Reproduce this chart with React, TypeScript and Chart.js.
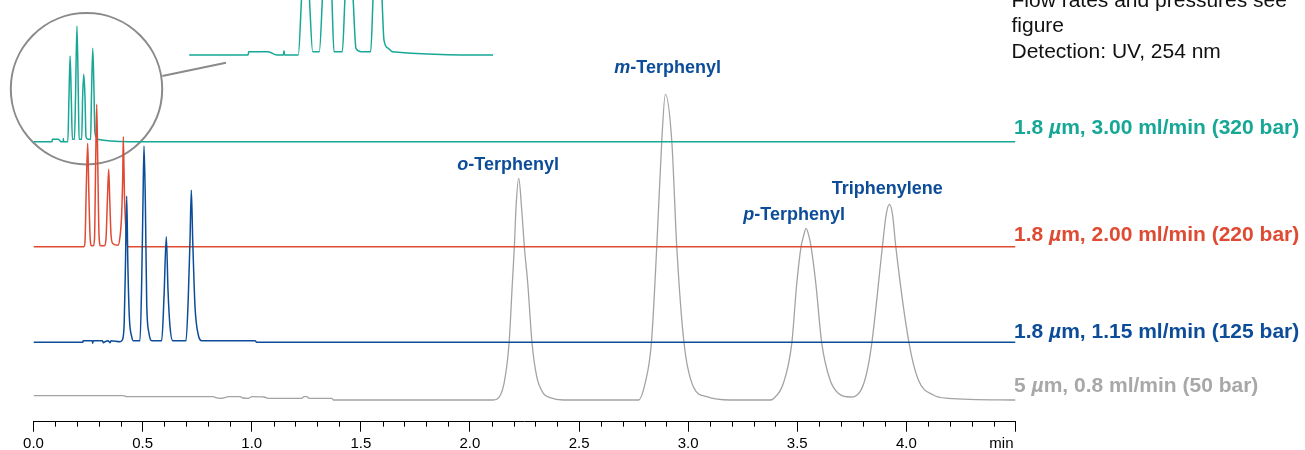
import React, { useEffect, useRef } from 'react';
import { Chart, registerables } from 'chart.js';

Chart.register(...registerables);

// ---------- data ----------
const X_MIN = 0;
const X_MAX = 4.5;
const TICK_VALUES = [0, 0.5, 1.0, 1.5, 2.0, 2.5, 3.0, 3.5, 4.0, 4.5];
const TICK_LABELS = ['0.0', '0.5', '1.0', '1.5', '2.0', '2.5', '3.0', '3.5', '4.0', ''];
const UNIT_LABEL = 'min';

// 5 µm, 0.8 ml/min (50 bar)
const grayTime = [
  0.0, 0.4115, 0.4271, 0.8226, 0.8396, 0.8547, 0.8731, 0.8914, 0.9464, 0.9601, 0.9831, 1.0014,
  1.0564, 1.0747, 1.2291, 1.2397, 1.2534, 1.2626, 1.3666, 1.374, 2.1059,
  2.1228, 2.1563, 2.1792, 2.1943, 2.2035, 2.2113, 2.2236, 2.2374, 2.2493, 2.2649, 2.2846, 2.3061, 2.3364, 2.3671, 2.428, 2.7644,
  2.7718, 2.8025, 2.8314, 2.8561, 2.879, 2.8955, 2.9249, 2.9477, 2.9812, 3.0238, 3.0852, 3.192, 3.3753,
  3.3891, 3.4363, 3.4748, 3.4977, 3.5174, 3.528, 3.5403, 3.5541, 3.5632, 3.5848, 3.6123, 3.6503, 3.6884, 3.742, 3.7878,
  3.8158, 3.8414, 3.89, 3.907, 3.9221, 3.9368, 3.9514, 4.0124, 4.055, 4.1237, 4.1903, 4.5,
];
const graySignal = [
  4.3, 4.3, 3.3, 3.3, 2.2, 1.7, 2.2, 3.3, 3.3, 2.0, 1.7, 3.3,
  3.0, 1.7, 1.7, 3.3, 3.3, 1.7, 1.7, 0, 0,
  0.7, 16.7, 56.7, 116.7, 153.3, 193.3, 221.7, 190, 153.3, 116.7, 56.7, 23.3, 6.7, 2.3, 0, 0,
  0, 16.7, 56.7, 153.3, 259, 305.7, 259, 153.3, 56.7, 13.3, 3.3, 0, 0,
  1.0, 16.7, 56.7, 116.7, 153.3, 163.3, 171.7, 163.3, 153.3, 116.7, 56.7, 20, 6.7, 3.0, 8.3,
  25, 56.7, 153.3, 185, 195.7, 185, 153.3, 56.7, 20, 5, 1.7, 0,
];

// 1.8 µm, 1.15 ml/min (125 bar)
const blueTime = [
  0.0, 0.2255, 0.2282, 0.269, 0.2713, 0.2736, 0.3162, 0.3199, 0.3277, 0.3414, 0.3506, 0.3552, 0.3964, 0.4079,
  0.4157, 0.4216, 0.4271, 0.4322, 0.439, 0.45, 0.4574, 0.488,
  0.4959, 0.5018, 0.5064, 0.5124, 0.5188, 0.5293, 0.5417, 0.5875,
  0.5981, 0.6086, 0.6164, 0.6256, 0.638, 0.6989,
  0.7094, 0.7172, 0.7232, 0.7296, 0.7402, 0.7553, 0.7709, 1.0151, 1.0229, 4.5,
];
const blueSignal = [
  0, 0, 1.6, 1.6, -1.0, 1.6, 1.6, -0.4, 0.6, 1.6, -0.4, 1.6, 0.6, 2.5,
  20, 80, 146.3, 80, 26, 5.6, 1.6, 1.6,
  62, 142, 196.3, 142, 39, 9, 1.6, 1.6,
  45.6, 105.6, 52, 15.6, 1.6, 1.6,
  45.6, 102, 152, 102, 35.6, 7.3, 1.6, 1.6, 0, 0,
];

// 1.8 µm, 2.00 ml/min (220 bar)
const redTime = [
  0.0, 0.2314, 0.236, 0.242, 0.2484, 0.2535, 0.2589, 0.2658,
  0.2741, 0.2796, 0.2846, 0.2896, 0.2947, 0.3002, 0.3071,
  0.3254, 0.3323, 0.3391, 0.3446, 0.3497, 0.3552, 0.3643, 0.3873,
  0.3964, 0.4042, 0.4088, 0.4115, 0.417, 0.4271, 0.4345, 4.5,
];
const redSignal = [
  0, 0, 5, 60, 103.4, 55, 12, 1,
  1, 8, 80, 142.4, 80, 12, 1,
  1, 8, 50, 77.4, 45, 12, 3, 1.5,
  10, 33.7, 70, 110, 50, 6.7, 0, 0,
];

// 1.8 µm, 3.00 ml/min (320 bar)
const tealTime = [
  0.0, 0.085, 0.086, 0.114, 0.1265, 0.136, 0.1368, 0.1376, 0.1574,
  0.1623, 0.1678, 0.1733, 0.1782, 0.1877,
  0.1926, 0.1991, 0.2056, 0.2089, 0.2209,
  0.2252, 0.2305, 0.2359, 0.2406, 0.2488, 0.2618,
  0.2656, 0.2716, 0.2777, 0.281, 0.2872, 0.293, 0.4386, 4.5,
];
const tealSignal = [
  0, 0, 2.4, 2.4, 0, 0, 3.1, 0, 0,
  42, 85.7, 42, 2.4, 2.4,
  45, 115.7, 45, 2.4, 2.4,
  45, 67.4, 45, 4.8, 2.4, 2.4,
  45, 93.4, 45, 10.7, 4.8, 2.4, 0, 0,
];

// ---------- styles ----------
const FONT = '"Liberation Sans", Arial, Helvetica, sans-serif';
const TEAL = '#16a797';
const RED = '#df4a33';
const BLUE = '#0c4c98';
const GRAY = '#a3a3a3';
const GRAY_TEXT = '#a8a8a8';
const CIRCLE = '#8a8a8a';

// vertical offsets of each trace (stacked display), in axis units
const OFFSET_GRAY = 21.7;
const OFFSET_BLUE = 79.4;
const OFFSET_RED = 175;
const OFFSET_TEAL = 280;

const W = 1305;
const H = 450;

function toPoints(time: number[], signal: number[], offset: number) {
  return time.map((t, i) => ({ x: t, y: signal[i] + offset }));
}

function lineDs(label: string, time: number[], signal: number[], offset: number, color: string, order: number, width = 1.5) {
  return {
    label,
    data: toPoints(time, signal, offset),
    borderColor: color,
    borderWidth: width,
    pointRadius: 0,
    fill: false,
    cubicInterpolationMode: 'monotone' as const,
    order,
  };
}

export default function App() {
  const mainRef = useRef<HTMLCanvasElement>(null);
  const insetRef = useRef<HTMLCanvasElement>(null);

  useEffect(() => {
    const axisExtras = {
      id: 'axisExtras',
      afterDraw(chart: any) {
        const xs = chart.scales.x;
        const ctx = chart.ctx;
        ctx.save();
        ctx.strokeStyle = '#000';
        ctx.lineWidth = 1;
        ctx.beginPath();
        for (let k = 1; k < 45; k++) {
          if (k % 5 === 0) continue;
          const x = Math.round(xs.getPixelForValue(k / 10)) + 0.5;
          ctx.moveTo(x, xs.top);
          ctx.lineTo(x, xs.top + 5);
        }
        ctx.stroke();
        ctx.font = `15px ${FONT}`;
        ctx.fillStyle = '#000';
        ctx.textAlign = 'right';
        ctx.textBaseline = 'middle';
        ctx.fillText(UNIT_LABEL, xs.getPixelForValue(X_MAX) - 2, xs.top + 10 + 3 + 9);
        ctx.restore();
      },
    };

    const main = new Chart(mainRef.current!, {
      type: 'line',
      data: {
        datasets: [
          lineDs('1.8 µm, 1.15 ml/min (125 bar)', blueTime, blueSignal, OFFSET_BLUE, BLUE, 1),
          lineDs('1.8 µm, 2.00 ml/min (220 bar)', redTime, redSignal, OFFSET_RED, RED, 2),
          lineDs('1.8 µm, 3.00 ml/min (320 bar)', tealTime, tealSignal, OFFSET_TEAL, TEAL, 3),
          lineDs('5 µm, 0.8 ml/min (50 bar)', grayTime, graySignal, OFFSET_GRAY, GRAY, 4, 1.3),
        ],
      },
      options: {
        responsive: false,
        animation: false,
        layout: { padding: { left: 33.5, right: 289.5, top: 0, bottom: 0 } },
        plugins: { legend: { display: false }, tooltip: { enabled: false } },
        scales: {
          x: {
            type: 'linear',
            min: X_MIN,
            max: X_MAX,
            border: { display: true, color: '#000', width: 1 },
            grid: { drawOnChartArea: false, drawTicks: true, tickLength: 10, tickColor: '#000', tickWidth: 1 },
            ticks: {
              stepSize: 0.5,
              autoSkip: false,
              maxRotation: 0,
              padding: 3,
              color: '#000',
              font: { family: FONT, size: 15 },
              callback: (v: any) => {
                const i = TICK_VALUES.findIndex((t) => Math.abs(t - Number(v)) < 1e-6);
                return i >= 0 ? TICK_LABELS[i] : '';
              },
            },
            afterFit: (s: any) => {
              s.height = 28.3;
            },
          },
          y: { type: 'linear', display: false, min: 0, max: 421.7 },
        },
      },
      plugins: [axisExtras],
    });

    const inset = new Chart(insetRef.current!, {
      type: 'line',
      data: {
        datasets: [lineDs('inset', tealTime, tealSignal, 0, TEAL, 1)],
      },
      options: {
        responsive: false,
        animation: false,
        layout: { padding: { left: 9.1, right: 16.7, top: 0, bottom: 0 } },
        plugins: { legend: { display: false }, tooltip: { enabled: false } },
        scales: {
          x: { type: 'linear', display: false, min: 0, max: 0.4386 },
          y: { type: 'linear', display: false, min: -10.71, max: 39.29 },
        },
      },
    });

    return () => {
      main.destroy();
      inset.destroy();
    };
  }, []);

  const bold: React.CSSProperties = {
    position: 'absolute',
    whiteSpace: 'nowrap',
    fontFamily: FONT,
    fontWeight: 700,
    lineHeight: 1,
    margin: 0,
  };
  const peak: React.CSSProperties = { ...bold, fontSize: 18, color: BLUE };
  const right: React.CSSProperties = { ...bold, fontSize: 21, left: 1014 };

  return (
    <div style={{ position: 'absolute', left: 0, top: 0, width: W, height: H, overflow: 'hidden', background: '#fff' }}>
      <svg width={W} height={H} style={{ position: 'absolute', left: 0, top: 0 }}>
        <circle cx={86.5} cy={88.8} r={75.7} fill="none" stroke={CIRCLE} strokeWidth={2} />
        <line x1={162.3} y1={76} x2={226} y2={62.7} stroke={CIRCLE} strokeWidth={2} />
      </svg>
      <canvas ref={mainRef} width={W} height={H} style={{ position: 'absolute', left: 0, top: 0, width: W, height: H }} />
      <canvas ref={insetRef} width={330} height={70} style={{ position: 'absolute', left: 180, top: 0, width: 330, height: 70 }} />

      <div style={{ position: 'absolute', left: 1011.5, top: -13.5, fontFamily: FONT, fontSize: 21, lineHeight: '25.5px', color: '#111', whiteSpace: 'nowrap' }}>
        Flow rates and pressures see
        <br />
        figure
        <br />
        Detection: UV, 254 nm
      </div>

      <div style={{ ...right, top: 116.2, color: TEAL }}>1.8 <i>µ</i>m, 3.00 ml/min (320 bar)</div>
      <div style={{ ...right, top: 223.2, color: RED }}>1.8 <i>µ</i>m, 2.00 ml/min (220 bar)</div>
      <div style={{ ...right, top: 319.5, color: BLUE }}>1.8 <i>µ</i>m, 1.15 ml/min (125 bar)</div>
      <div style={{ ...right, top: 373.9, color: GRAY_TEXT }}>5 <i>µ</i>m, 0.8 ml/min (50 bar)</div>

      <div style={{ ...peak, left: 457.3, top: 154.8 }}><i>o</i>-Terphenyl</div>
      <div style={{ ...peak, left: 614.3, top: 58.1 }}><i>m</i>-Terphenyl</div>
      <div style={{ ...peak, left: 743.3, top: 204.8 }}><i>p</i>-Terphenyl</div>
      <div style={{ ...peak, left: 831.7, top: 178.8 }}>Triphenylene</div>
    </div>
  );
}
